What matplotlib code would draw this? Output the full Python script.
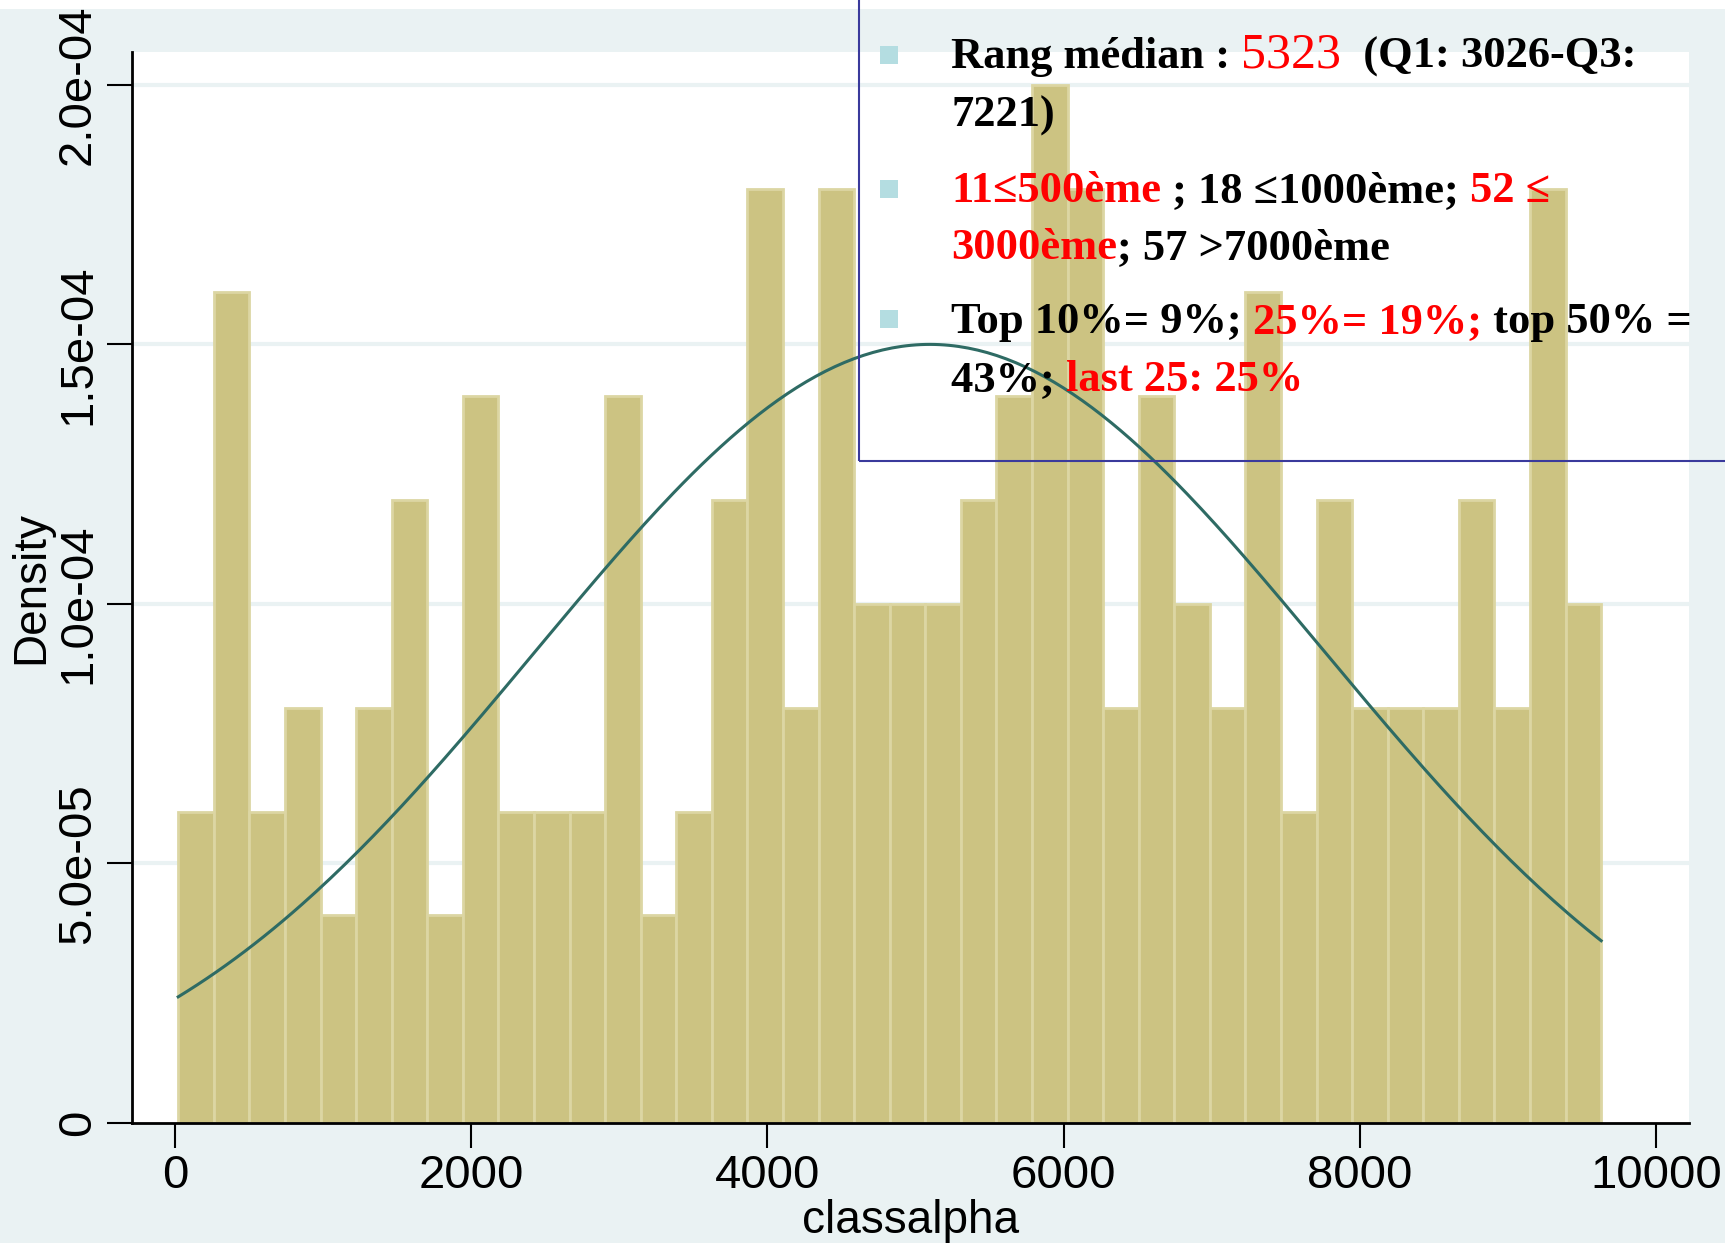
import numpy as np
import matplotlib.pyplot as plt
from matplotlib.patches import Rectangle

plt.rcParams['font.family'] = ['Liberation Sans', 'DejaVu Sans']

# histogram of classalpha (density scale), 40 bins
bin_start = 22
bin_width = 240.2
density = np.array([6, 16, 6, 8, 4, 8, 12, 4, 14, 6,
                    6, 6, 14, 4, 6, 12, 18, 8, 18, 10,
                    10, 10, 12, 14, 20, 18, 8, 14, 10, 8,
                    16, 6, 12, 8, 8, 8, 12, 8, 18, 10]) * 1e-5

# normal density overlay
mean_rank = 5097
sd_rank = 2660

xticks = [0, 2000, 4000, 6000, 8000, 10000]
yticks = [0, 5e-5, 1e-4, 1.5e-4, 2e-4]
ytick_labels = ['0', '5.0e-05', '1.0e-04', '1.5e-04', '2.0e-04']

# annotation lines: (text, colour, weight, size)
RED = '#ff0000'
FS = 32
lines = [
    [('Rang médian : ', 'black', 'bold', FS), ('5323', RED, 'normal', 36),
     ('  (Q1: 3026-Q3:', 'black', 'bold', FS)],
    [('7221)', 'black', 'bold', FS)],
    [('11≤500ème', RED, 'bold', FS), (' ; 18 ≤1000ème; ', 'black', 'bold', FS),
     ('52 ≤', RED, 'bold', FS)],
    [('3000ème', RED, 'bold', FS), ('; 57 >7000ème', 'black', 'bold', FS)],
    [('Top 10%= 9%; ', 'black', 'bold', FS), ('25%= 19%;', RED, 'bold', FS),
     (' top 50% =', 'black', 'bold', FS)],
    [('43%; ', 'black', 'bold', FS), ('last 25: 25%', RED, 'bold', FS)],
]
baselines = [68, 127, 202, 259, 333, 391]   # pixels from top
bullet_rows = [55, 189, 319]

W, H = 1725, 1243
bg = '#eaf2f3'
fig = plt.figure(figsize=(W / 100, H / 100), dpi=100, facecolor=bg)
fig.patches.append(Rectangle((0, 1 - 9 / H), 1, 9 / H, transform=fig.transFigure,
                             facecolor='white', edgecolor='none', zorder=0))

ax = fig.add_axes([132 / W, 1 - 1123 / H, (1689 - 132) / W, (1123 - 52) / H])
ax.set_facecolor('white')

for y in yticks[1:]:
    ax.axhline(y, color=bg, lw=3, zorder=0)

edges = bin_start + bin_width * np.arange(len(density))
ax.bar(edges, density, width=bin_width, align='edge', color='#ccc382',
       edgecolor='#dcd6a3', linewidth=2, zorder=2)

xs = np.linspace(bin_start, bin_start + bin_width * len(density), 300)
ys = np.exp(-0.5 * ((xs - mean_rank) / sd_rank) ** 2) / (sd_rank * np.sqrt(2 * np.pi))
ax.plot(xs, ys, color='#2e6b64', lw=2.2, zorder=3)

ax.set_xlim(-290, 10223)
ax.set_ylim(0, 2.063e-4)
ax.set_xticks(xticks)
ax.set_xticklabels([str(t) for t in xticks])
ax.set_yticks(yticks)
ax.set_yticklabels(ytick_labels, rotation=90, va='center')
ax.tick_params(axis='both', labelsize=34, length=18, width=1.5, direction='out')
ax.tick_params(axis='y', pad=5)
ax.tick_params(axis='x', pad=4)
for s in ['top', 'right']:
    ax.spines[s].set_visible(False)
for s in ['left', 'bottom']:
    ax.spines[s].set_linewidth(2)
ax.set_xlabel('classalpha', fontsize=33, labelpad=1)
ax.set_ylabel('Density', fontsize=33, labelpad=2)

# text box overlay
fig.patches.append(Rectangle((859 / W, 1 - 461 / H), 1, 1, transform=fig.transFigure,
                             facecolor='none', edgecolor='#3a3a9c', lw=1.5, zorder=5))
for yb in bullet_rows:
    fig.patches.append(Rectangle((880 / W, 1 - (yb + 9) / H), 18 / W, 18 / H,
                                 transform=fig.transFigure, facecolor='#b4dde1',
                                 edgecolor='none', zorder=6))

fig.canvas.draw()
renderer = fig.canvas.get_renderer()
serif = ['Liberation Serif', 'DejaVu Serif']


def piece_width(s, weight, size):
    t = fig.text(0, 0, s + '.', family=serif, weight=weight, fontsize=size)
    w1 = t.get_window_extent(renderer).width
    t.set_text('.')
    w2 = t.get_window_extent(renderer).width
    t.remove()
    return w1 - w2


for row, yb in zip(lines, baselines):
    x = 951
    for text, col, weight, size in row:
        fig.text(x / W, 1 - yb / H, text, family=serif, weight=weight, fontsize=size,
                 color=col, va='baseline', ha='left', zorder=7)
        x += piece_width(text, weight, size)

fig.savefig('out.png', dpi=100, facecolor=bg)
